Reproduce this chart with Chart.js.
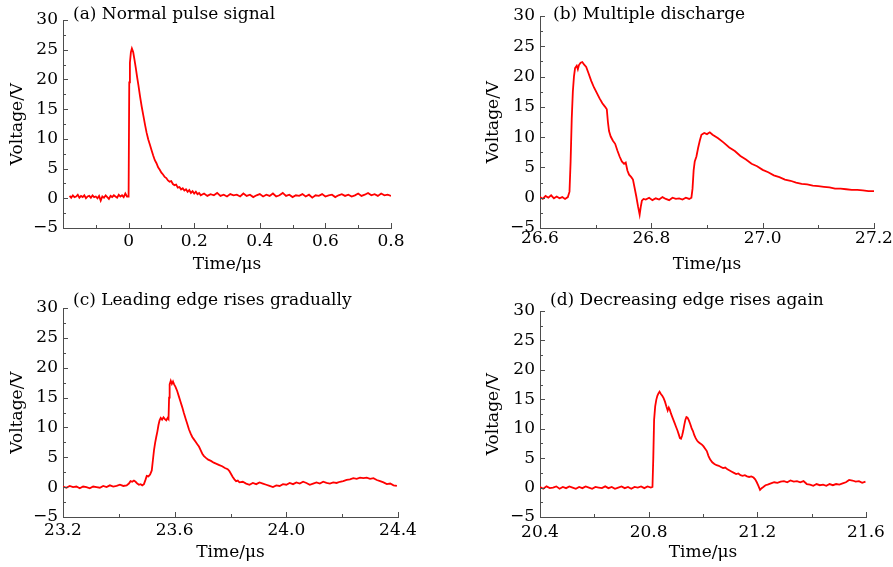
<!DOCTYPE html>
<html>
<head>
<meta charset="utf-8">
<script src="https://cdn.jsdelivr.net/npm/chart.js@4.4.0/dist/chart.umd.min.js"></script>
<style>
    html, body { margin: 0; padding: 0; background: #fff; }
    #wrap { position: relative; width: 893px; height: 567px; }
    #wrap canvas { position: absolute; left: 0; top: 0; }
</style>
</head>
<body>
<div id="wrap">
    <canvas id="chart-a" width="893" height="567"></canvas>
    <canvas id="chart-b" width="893" height="567"></canvas>
    <canvas id="chart-c" width="893" height="567"></canvas>
    <canvas id="chart-d" width="893" height="567"></canvas>
</div>
<script>
// Voltage axis (shared by all four panels)
const voltTicks = [-5, 0, 5, 10, 15, 20, 25, 30];
const voltLabels = ['\u22125', '0', '5', '10', '15', '20', '25', '30'];

// (a) Normal pulse signal
const titleA = '(a) Normal pulse signal';
const timeTicksA = [-0.2, 0, 0.2, 0.4, 0.6, 0.8];
const timeLabelsA = ['', '0', '0.2', '0.4', '0.6', '0.8'];
const timeA = [
    -0.180, -0.175, -0.170, -0.165, -0.160, -0.155, -0.150, -0.145, -0.140, -0.135,
    -0.130, -0.125, -0.120, -0.115, -0.110, -0.105, -0.100, -0.095, -0.090, -0.085,
    -0.080, -0.075, -0.070, -0.065, -0.060, -0.055, -0.050, -0.045, -0.040, -0.035,
    -0.030, -0.025, -0.020, -0.015, -0.010, -0.005, 0.000,
    0.002, 0.004, 0.007, 0.010, 0.014, 0.018, 0.022, 0.026, 0.030,
    0.035, 0.040, 0.045, 0.050, 0.055, 0.060, 0.065, 0.070, 0.075, 0.080,
    0.085, 0.090, 0.095, 0.100, 0.105, 0.110, 0.115, 0.120, 0.125, 0.130,
    0.135, 0.140, 0.145, 0.150, 0.155, 0.160, 0.165, 0.170, 0.175, 0.180,
    0.185, 0.190, 0.195, 0.200, 0.205, 0.210, 0.215,
    0.22, 0.23, 0.24, 0.25, 0.26, 0.27, 0.28, 0.29, 0.30, 0.31,
    0.32, 0.33, 0.34, 0.35, 0.36, 0.37, 0.38, 0.39, 0.40, 0.41,
    0.42, 0.43, 0.44, 0.45, 0.46, 0.47, 0.48, 0.49, 0.50, 0.51,
    0.52, 0.53, 0.54, 0.55, 0.56, 0.57, 0.58, 0.59, 0.60, 0.61,
    0.62, 0.63, 0.64, 0.65, 0.66, 0.67, 0.68, 0.69, 0.70, 0.71,
    0.72, 0.73, 0.74, 0.75, 0.76, 0.77, 0.78, 0.79, 0.80
];
const voltA = [
    0.4, 0.1, 0.5, 0.2, 0.3, 0.6, 0.1, 0.4, 0.2, 0.5,
    0.0, 0.3, 0.4, 0.1, 0.5, 0.2, 0.3, 0.0, 0.4, -0.4,
    0.3, 0.1, 0.5, 0.2, -0.1, 0.4, 0.2, 0.5, 0.3, 0.1,
    0.6, 0.3, 0.5, 0.2, 0.8, 0.3, 0.3,
    19.5, 22.8, 24.6, 25.2, 24.6, 23.3, 21.9, 20.4, 19.0,
    17.1, 15.4, 13.9, 12.4, 11.0, 9.9, 9.0, 8.1, 7.2, 6.4,
    5.9, 5.2, 4.8, 4.3, 4.0, 3.6, 3.4, 3.0, 2.8, 2.9,
    2.4, 2.2, 2.3, 1.8, 1.9, 1.5, 1.7, 1.3, 1.5, 1.1,
    1.4, 0.9, 1.2, 0.8, 1.1, 0.7, 0.9,
    0.5, 0.8, 0.4, 0.7, 0.5, 0.9, 0.4, 0.6, 0.3, 0.7,
    0.5, 0.6, 0.3, 0.8, 0.4, 0.6, 0.2, 0.5, 0.7, 0.3,
    0.6, 0.4, 0.8, 0.3, 0.5, 0.9, 0.4, 0.6, 0.2, 0.5,
    0.4, 0.7, 0.3, 0.6, 0.1, 0.5, 0.4, 0.7, 0.3, 0.5,
    0.6, 0.2, 0.5, 0.7, 0.4, 0.6, 0.3, 0.5, 0.8, 0.4,
    0.6, 0.9, 0.5, 0.7, 0.4, 0.8, 0.5, 0.6, 0.4
];

// (b) Multiple discharge
const titleB = '(b) Multiple discharge';
const timeTicksB = [26.6, 26.8, 27.0, 27.2];
const timeLabelsB = ['26.6', '26.8', '27.0', '27.2'];
const timeB = [
    26.600, 26.605, 26.610, 26.615, 26.620, 26.625, 26.630, 26.635, 26.640, 26.645, 26.650,
    26.653, 26.655, 26.657, 26.659, 26.661, 26.663, 26.666, 26.668, 26.670, 26.673,
    26.676, 26.679, 26.683, 26.687, 26.692, 26.697, 26.702, 26.707, 26.712, 26.717,
    26.720, 26.722, 26.724, 26.727, 26.731, 26.735, 26.739, 26.743, 26.747, 26.751,
    26.754, 26.757, 26.760, 26.764, 26.767, 26.770, 26.773, 26.776, 26.779, 26.781,
    26.783, 26.786,
    26.790, 26.796, 26.802, 26.808, 26.814, 26.820, 26.826, 26.832, 26.838, 26.844,
    26.850, 26.856, 26.862, 26.868, 26.872,
    26.874, 26.876, 26.878, 26.881, 26.884, 26.887, 26.890, 26.895, 26.900, 26.905, 26.910,
    26.92, 26.93, 26.94, 26.95, 26.96, 26.97, 26.98, 26.99, 27.00, 27.01,
    27.02, 27.03, 27.04, 27.05, 27.06, 27.07, 27.08, 27.09, 27.10, 27.11,
    27.12, 27.13, 27.14, 27.15, 27.16, 27.17, 27.18, 27.19, 27.20
];
const voltB = [
    0.1, -0.2, 0.3, 0.0, 0.4, -0.1, 0.2, -0.1, 0.1, -0.2, 0.1,
    1.0, 6.0, 13.0, 17.5, 20.0, 21.4, 21.8, 21.2, 21.9, 22.3,
    22.4, 22.0, 21.6, 20.6, 19.3, 18.2, 17.3, 16.4, 15.6, 15.0,
    14.6, 12.5, 11.0, 10.1, 9.4, 8.9, 7.8, 6.8, 6.0, 5.6,
    5.8, 4.5, 3.8, 3.4, 3.0, 1.6, 0.2, -1.4, -2.8, -1.5,
    -0.5, -0.2,
    -0.3, 0.0, -0.4, -0.1, -0.3, 0.1, -0.2, -0.4, 0.0, -0.2,
    -0.1, -0.3, 0.0, -0.2, 0.0,
    1.5, 4.5, 6.0, 6.8, 8.2, 9.4, 10.4, 10.7, 10.5, 10.8, 10.4,
    9.8, 9.1, 8.3, 7.7, 6.9, 6.3, 5.6, 5.2, 4.6, 4.2,
    3.7, 3.4, 3.0, 2.8, 2.5, 2.3, 2.2, 2.0, 1.9, 1.8,
    1.7, 1.5, 1.5, 1.4, 1.3, 1.3, 1.2, 1.1, 1.1
];

// (c) Leading edge rises gradually
const titleC = '(c) Leading edge rises gradually';
const timeTicksC = [23.2, 23.6, 24.0, 24.4];
const timeLabelsC = ['23.2', '23.6', '24.0', '24.4'];
const timeC = [
    23.200, 23.212, 23.224, 23.236, 23.248, 23.260, 23.272, 23.284, 23.296, 23.308,
    23.320, 23.332, 23.344, 23.356, 23.368, 23.380, 23.392, 23.404, 23.416, 23.428,
    23.436, 23.442, 23.448, 23.454, 23.460, 23.466, 23.472, 23.478, 23.484, 23.490,
    23.496, 23.500, 23.506, 23.512, 23.518, 23.522, 23.526, 23.530, 23.534, 23.538,
    23.542, 23.546, 23.550, 23.555, 23.560, 23.565, 23.570, 23.575, 23.578, 23.580,
    23.582, 23.586, 23.590, 23.594, 23.598, 23.603, 23.609, 23.615, 23.621, 23.627,
    23.633, 23.639, 23.645, 23.651, 23.657, 23.663, 23.669, 23.675, 23.681, 23.687,
    23.693, 23.699, 23.705, 23.712, 23.720, 23.730, 23.740, 23.750, 23.760, 23.770,
    23.780, 23.790, 23.796, 23.802, 23.808, 23.814, 23.820, 23.826, 23.832,
    23.844, 23.856, 23.868, 23.880, 23.892, 23.904, 23.916, 23.928, 23.940, 23.952,
    23.964, 23.976, 23.988, 24.000, 24.012, 24.024, 24.036, 24.048, 24.060, 24.072,
    24.084, 24.096, 24.108, 24.120, 24.132, 24.144, 24.156, 24.168, 24.180, 24.192,
    24.204, 24.216, 24.228, 24.240, 24.252, 24.264, 24.276, 24.288, 24.300, 24.312,
    24.324, 24.336, 24.348, 24.360, 24.372, 24.384, 24.396
];
const voltC = [
    0.1, -0.1, 0.2, 0.0, 0.1, -0.2, 0.1, 0.0, -0.2, 0.1,
    0.0, -0.1, 0.2, 0.0, 0.3, 0.1, 0.2, 0.4, 0.2, 0.3,
    0.6, 1.0, 0.9, 1.1, 0.9, 0.6, 0.4, 0.5, 0.3, 0.5,
    1.3, 1.9, 1.8, 2.1, 2.8, 4.5, 6.2, 7.4, 8.4, 9.3,
    10.4, 11.2, 11.6, 11.3, 11.7, 11.4, 11.2, 11.6, 11.4, 15.0,
    17.2, 17.8, 17.3, 17.7, 17.2, 16.8, 16.1, 15.2, 14.3, 13.4,
    12.4, 11.5, 10.6, 9.7, 9.0, 8.4, 8.0, 7.6, 7.2, 6.8,
    6.2, 5.6, 5.2, 4.9, 4.6, 4.4, 4.1, 3.9, 3.7, 3.5,
    3.2, 3.0, 2.7, 2.2, 1.7, 1.3, 1.0, 1.1, 0.8,
    0.9, 0.6, 0.4, 0.7, 0.5, 0.8, 0.6, 0.4, 0.2, 0.0,
    0.3, 0.2, 0.5, 0.4, 0.7, 0.5, 0.8, 0.6, 0.9, 0.7,
    0.4, 0.6, 0.8, 0.6, 0.9, 0.7, 0.6, 0.8, 0.7, 0.9,
    1.0, 1.2, 1.3, 1.5, 1.4, 1.6, 1.5, 1.6, 1.4, 1.5,
    1.2, 1.0, 0.8, 0.5, 0.6, 0.3, 0.2
];

// (d) Decreasing edge rises again
const titleD = '(d) Decreasing edge rises again';
const timeTicksD = [20.4, 20.8, 21.2, 21.6];
const timeLabelsD = ['20.4', '20.8', '21.2', '21.6'];
const timeD = [
    20.400, 20.412, 20.424, 20.436, 20.448, 20.460, 20.472, 20.484, 20.496, 20.508,
    20.520, 20.532, 20.544, 20.556, 20.568, 20.580, 20.592, 20.604, 20.616, 20.628,
    20.640, 20.652, 20.664, 20.676, 20.688, 20.700, 20.712, 20.724, 20.736, 20.748,
    20.760, 20.772, 20.784, 20.796, 20.808,
    20.814, 20.817, 20.820, 20.824, 20.828, 20.832, 20.836, 20.840, 20.845, 20.850,
    20.855, 20.860, 20.865, 20.870, 20.874, 20.878, 20.882, 20.886, 20.891, 20.896,
    20.901, 20.906, 20.911, 20.915, 20.919, 20.923, 20.927, 20.931, 20.935, 20.939,
    20.943, 20.948, 20.953, 20.958, 20.963, 20.968, 20.973, 20.978, 20.984, 20.990,
    20.996, 21.002, 21.008, 21.014, 21.020, 21.026, 21.034, 21.042, 21.050, 21.058,
    21.066, 21.074, 21.082, 21.090, 21.098, 21.106, 21.114, 21.122, 21.130, 21.138,
    21.146, 21.154, 21.162, 21.170, 21.178, 21.186, 21.192, 21.198, 21.204, 21.210,
    21.216, 21.222, 21.230,
    21.238, 21.250, 21.262, 21.274, 21.286, 21.298, 21.310, 21.322, 21.334, 21.346,
    21.358, 21.370, 21.382, 21.394, 21.406, 21.418, 21.430, 21.442, 21.454, 21.466,
    21.478, 21.490, 21.502, 21.514, 21.526, 21.538, 21.550, 21.562, 21.574, 21.586, 21.598
];
const voltD = [
    0.1, -0.2, 0.2, -0.1, 0.0, 0.2, -0.2, 0.1, -0.1, 0.2,
    0.0, -0.2, 0.1, -0.1, 0.2, 0.0, -0.2, 0.1, 0.0, -0.1,
    0.2, -0.1, 0.1, -0.2, 0.0, 0.2, -0.1, 0.1, -0.2, 0.1,
    0.0, 0.2, -0.1, 0.2, 0.0,
    0.1, 5.0, 11.5, 13.8, 14.9, 15.6, 16.0, 16.3, 15.9, 15.6,
    15.2, 14.6, 13.8, 13.1, 13.6, 13.2, 12.6, 12.1, 11.5, 10.9,
    10.3, 9.7, 9.0, 8.4, 8.3, 8.8, 9.6, 10.6, 11.5, 12.0,
    11.9, 11.4, 10.8, 10.1, 9.6, 8.9, 8.4, 8.0, 7.7, 7.5,
    7.3, 7.0, 6.6, 6.2, 5.4, 4.8, 4.3, 4.0, 3.8, 3.7,
    3.5, 3.3, 3.4, 3.1, 2.9, 2.7, 2.5, 2.3, 2.4, 2.1,
    2.0, 2.1, 1.9, 1.8, 1.9, 1.7, 1.4, 0.9, 0.3, -0.4,
    -0.1, 0.1, 0.4,
    0.5, 0.7, 0.9, 0.8, 1.0, 1.1, 0.9, 1.2, 1.0, 1.1,
    0.9, 1.1, 0.6, 0.5, 0.3, 0.6, 0.4, 0.5, 0.3, 0.6,
    0.4, 0.6, 0.5, 0.7, 0.9, 1.3, 1.2, 1.0, 1.1, 0.8, 1.0
];

const FONT = "'DejaVu Serif', serif";
const AXIS_COLOR = '#4d4d4d';
const LINE_COLOR = '#ff0000';

// ticks pointing into the plot, major at labels and minor half way between
const inwardTicks = {
    id: 'inwardTicks',
    afterDraw(chart) {
        const { ctx, chartArea: area, scales: { x, y } } = chart;
        ctx.save();
        ctx.strokeStyle = AXIS_COLOR;
        ctx.lineWidth = 1;
        ctx.beginPath();
        const xs = x.ticks.map(t => t.value);
        xs.forEach((v, i) => {
            const px = Math.round(x.getPixelForValue(v)) + 0.5;
            ctx.moveTo(px, area.bottom);
            ctx.lineTo(px, area.bottom - 5);
            if (i < xs.length - 1) {
                const mx = Math.round(x.getPixelForValue((v + xs[i + 1]) / 2)) + 0.5;
                ctx.moveTo(mx, area.bottom);
                ctx.lineTo(mx, area.bottom - 3);
            }
        });
        const ys = y.ticks.map(t => t.value);
        ys.forEach((v, i) => {
            const py = Math.round(y.getPixelForValue(v)) + 0.5;
            ctx.moveTo(area.left, py);
            ctx.lineTo(area.left + 5, py);
            if (i < ys.length - 1) {
                const my = Math.round(y.getPixelForValue((v + ys[i + 1]) / 2)) + 0.5;
                ctx.moveTo(area.left, my);
                ctx.lineTo(area.left + 3, my);
            }
        });
        ctx.stroke();
        ctx.restore();
    }
};

// panel caption written just above the top left of the plot
const panelLabel = {
    id: 'panelLabel',
    afterDraw(chart, args, opts) {
        const { ctx, chartArea: area } = chart;
        ctx.save();
        ctx.font = '17px ' + FONT;
        ctx.fillStyle = '#000';
        ctx.textAlign = 'left';
        ctx.textBaseline = 'middle';
        ctx.fillText(opts.text, area.left + opts.dx, area.top + opts.dy);
        ctx.restore();
    }
};

function makePanel(id, times, volts, xTicks, xLabels, title, p) {
    const ctx = document.getElementById(id).getContext('2d');
    return new Chart(ctx, {
        type: 'line',
        data: {
            datasets: [{
                data: times.map((t, i) => ({ x: t, y: volts[i] })),
                borderColor: LINE_COLOR,
                borderWidth: 1.8,
                pointRadius: 0,
                tension: 0,
                fill: false
            }]
        },
        options: {
            responsive: false,
            animation: false,
            events: [],
            layout: {
                padding: {
                    left: p.left - p.yw,
                    top: p.top,
                    right: 893 - p.right,
                    bottom: 567 - p.bottom - p.xh
                }
            },
            plugins: {
                legend: { display: false },
                tooltip: { enabled: false },
                panelLabel: { text: title, dx: p.dx, dy: p.dy }
            },
            scales: {
                x: {
                    type: 'linear',
                    min: xTicks[0],
                    max: xTicks[xTicks.length - 1],
                    afterBuildTicks: s => { s.ticks = xTicks.map(v => ({ value: v })); },
                    afterFit: s => { s.height = p.xh; },
                    grid: { display: false, drawTicks: false },
                    border: { display: true, color: AXIS_COLOR, width: 1 },
                    ticks: {
                        autoSkip: false,
                        maxRotation: 0,
                        padding: p.xPad,
                        color: '#000',
                        font: { family: FONT, size: 17 },
                        callback: (v, i) => xLabels[i]
                    },
                    title: {
                        display: true,
                        text: 'Time/\u03bcs',
                        color: '#000',
                        font: { family: FONT, size: 17 },
                        padding: 0
                    }
                },
                y: {
                    min: -5,
                    max: 30,
                    afterBuildTicks: s => { s.ticks = voltTicks.map(v => ({ value: v })); },
                    afterFit: s => { s.width = p.yw; },
                    grid: { display: false, drawTicks: false },
                    border: { display: true, color: AXIS_COLOR, width: 1 },
                    ticks: {
                        autoSkip: false,
                        padding: 5,
                        color: '#000',
                        font: { family: FONT, size: 17 },
                        callback: (v, i) => voltLabels[i]
                    },
                    title: {
                        display: true,
                        text: 'Voltage/V',
                        color: '#000',
                        font: { family: FONT, size: 17 },
                        padding: { top: p.yTitlePad, bottom: 0 }
                    }
                }
            }
        },
        plugins: [inwardTicks, panelLabel]
    });
}

makePanel('chart-a', timeA, voltA, timeTicksA, timeLabelsA, titleA,
    { left: 63, top: 20, right: 391, bottom: 228, yw: 63, xh: 47, xPad: 3, yTitlePad: 7, dx: 10, dy: -5 });
makePanel('chart-b', timeB, voltB, timeTicksB, timeLabelsB, titleB,
    { left: 540, top: 16, right: 874, bottom: 228, yw: 60, xh: 47, xPad: 0, yTitlePad: 3, dx: 13, dy: -1 });
makePanel('chart-c', timeC, voltC, timeTicksC, timeLabelsC, titleC,
    { left: 63, top: 308, right: 398, bottom: 517, yw: 63, xh: 46, xPad: 3, yTitlePad: 7, dx: 10, dy: -7 });
makePanel('chart-d', timeD, voltD, timeTicksD, timeLabelsD, titleD,
    { left: 540, top: 311, right: 866, bottom: 517, yw: 60, xh: 46, xPad: 5, yTitlePad: 3, dx: 10, dy: -10 });
</script>
</body>
</html>
